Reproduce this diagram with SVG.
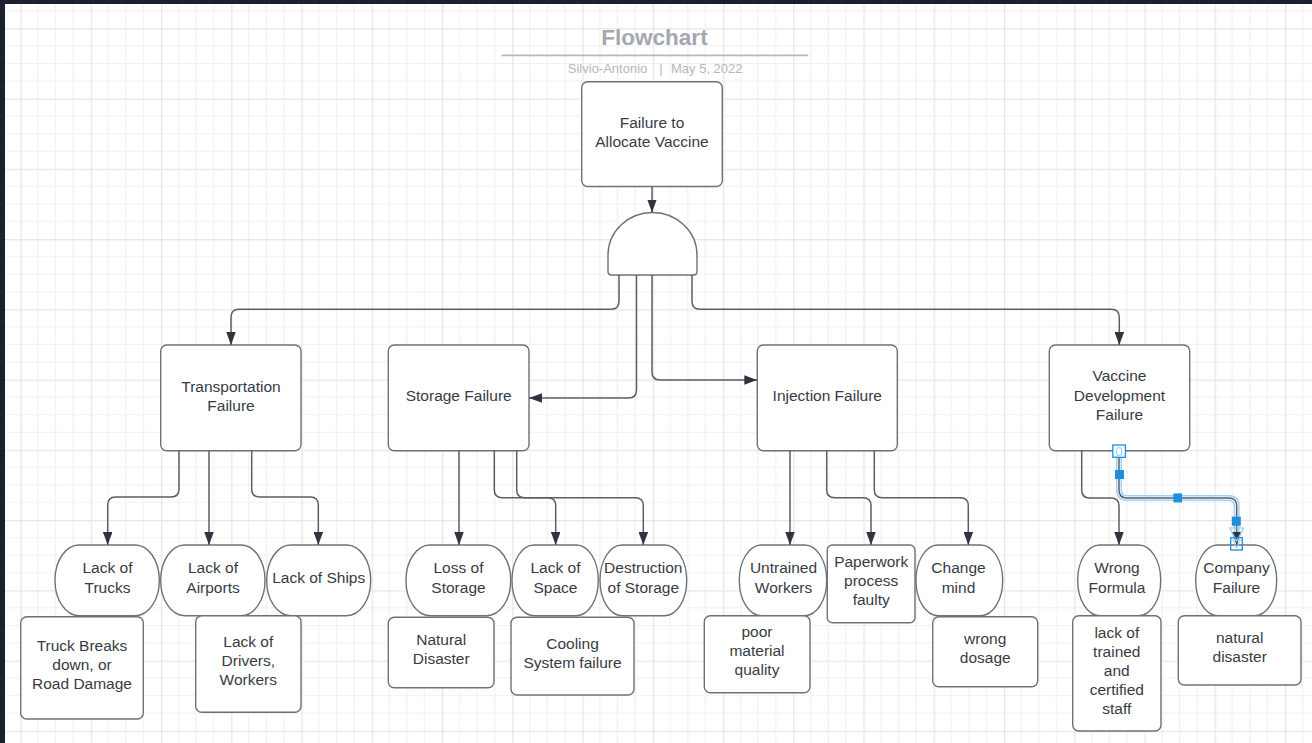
<svg xmlns="http://www.w3.org/2000/svg" width="1312" height="743" viewBox="0 0 1312 743">
  <defs>
    <pattern id="grid" patternUnits="userSpaceOnUse" x="20.45" y="28.3" width="70.25" height="70.25">
      <rect width="70.25" height="70.25" fill="#ffffff"/>
      <g stroke="#f1f1f2" stroke-width="1.2">
        <line x1="17.56" y1="0" x2="17.56" y2="70.25"/>
        <line x1="35.12" y1="0" x2="35.12" y2="70.25"/>
        <line x1="52.69" y1="0" x2="52.69" y2="70.25"/>
        <line x1="0" y1="17.56" x2="70.25" y2="17.56"/>
        <line x1="0" y1="35.12" x2="70.25" y2="35.12"/>
        <line x1="0" y1="52.69" x2="70.25" y2="52.69"/>
      </g>
      <g stroke="#e6e6e8" stroke-width="1.3">
        <line x1="0.6" y1="0" x2="0.6" y2="70.25"/>
        <line x1="0" y1="0.6" x2="70.25" y2="0.6"/>
      </g>
    </pattern>
    <marker id="arrow" viewBox="0 0 13 9.5" refX="13" refY="4.75" markerUnits="userSpaceOnUse" markerWidth="13" markerHeight="9.5" orient="auto">
      <path d="M0,0 L13,4.75 L0,9.5 Z" fill="#30343e"/>
    </marker>
  </defs>
  <style>
    .box { fill: #ffffff; stroke: #6e7178; stroke-width: 1.4; }
    .lbl { font-family: "Liberation Sans", Arial, sans-serif; font-size: 15.5px; fill: #383b43; text-anchor: middle; }
    .conn { fill: none; stroke: #5b5e66; stroke-width: 1.5; }
    .arr { marker-end: url(#arrow); }
    .title { font-family: "Liberation Sans", Arial, sans-serif; font-weight: bold; font-size: 22.5px; fill: #a4a8b0; text-anchor: middle; }
    .sub { font-family: "Liberation Sans", Arial, sans-serif; font-size: 13px; fill: #b4b7be; }
    .handle { fill: #1b8fe2; }
    .handleOpen { fill: #ffffff; stroke: #1b8fe2; stroke-width: 1.3; }
  </style>

  <!-- canvas frame and grid -->
  <rect x="0" y="0" width="1312" height="743" fill="#1b212e"/>
  <rect x="5" y="4" width="1307" height="739" fill="url(#grid)"/>

  <!-- header -->
  <g id="header">
    <text class="title" x="654.5" y="44.8">Flowchart</text>
    <line x1="501.5" y1="55.3" x2="808.3" y2="55.3" stroke="#b6b9c0" stroke-width="1.8"/>
    <text class="sub" x="647.3" y="73" text-anchor="end">Silvio-Antonio</text>
    <text class="sub" x="661" y="73" text-anchor="middle">|</text>
    <text class="sub" x="671" y="73">May 5, 2022</text>
  </g>

  <!-- root event -->
  <g id="root">
    <rect class="box" x="581.7" y="81.7" width="140.6" height="104.8" rx="6"/>
    <text class="lbl" x="652" y="127.5">Failure to</text>
    <text class="lbl" x="652" y="147">Allocate Vaccine</text>
  </g>

  <!-- AND gate -->
  <g id="and-gate">
    <path class="box" d="M608,271.5 L608,255 A44.5,42.5 0 0 1 697,255 L697,271.5 Q697,275 693.5,275 L611.5,275 Q608,275 608,271.5 Z"/>
  </g>

  <!-- level 1 -->
  <g id="transportation">
    <rect class="box" x="160.7" y="345" width="140.3" height="105.7" rx="6"/>
    <text class="lbl" x="231" y="391.8">Transportation</text>
    <text class="lbl" x="231" y="410.8">Failure</text>
  </g>
  <g id="storage">
    <rect class="box" x="388.3" y="345" width="140.7" height="105.7" rx="6"/>
    <text class="lbl" x="458.7" y="401">Storage Failure</text>
  </g>
  <g id="injection">
    <rect class="box" x="757.3" y="345" width="140" height="105.7" rx="6"/>
    <text class="lbl" x="827.3" y="401">Injection Failure</text>
  </g>
  <g id="vaccine-development">
    <rect class="box" x="1049.3" y="345" width="140.4" height="105.7" rx="6"/>
    <text class="lbl" x="1119.5" y="381.3">Vaccine</text>
    <text class="lbl" x="1119.5" y="400.8">Development</text>
    <text class="lbl" x="1119.5" y="419.8">Failure</text>
  </g>

  <!-- level 2: causes -->
  <g id="lack-of-trucks">
    <rect class="box" x="55" y="545" width="104.3" height="70.7" rx="24" ry="35"/>
    <text class="lbl" x="107.5" y="573.3">Lack of</text>
    <text class="lbl" x="107.5" y="592.8">Trucks</text>
  </g>
  <g id="lack-of-airports">
    <rect class="box" x="160.7" y="545" width="104.3" height="70.7" rx="24" ry="35"/>
    <text class="lbl" x="213" y="573.3">Lack of</text>
    <text class="lbl" x="213" y="592.8">Airports</text>
  </g>
  <g id="lack-of-ships">
    <rect class="box" x="266.7" y="545" width="104" height="70.7" rx="24" ry="35"/>
    <text class="lbl" x="318.7" y="583.3">Lack of Ships</text>
  </g>
  <g id="loss-of-storage">
    <rect class="box" x="406" y="545" width="104.7" height="70.7" rx="24" ry="35"/>
    <text class="lbl" x="458.5" y="573.3">Loss of</text>
    <text class="lbl" x="458.5" y="592.8">Storage</text>
  </g>
  <g id="lack-of-space">
    <rect class="box" x="512" y="545" width="86.3" height="70.7" rx="22" ry="35"/>
    <text class="lbl" x="555.5" y="573.3">Lack of</text>
    <text class="lbl" x="555.5" y="592.8">Space</text>
  </g>
  <g id="destruction-of-storage">
    <rect class="box" x="600" y="545" width="86.7" height="70.7" rx="22" ry="35"/>
    <text class="lbl" x="643.3" y="573.3">Destruction</text>
    <text class="lbl" x="643.3" y="592.8">of Storage</text>
  </g>
  <g id="untrained-workers">
    <rect class="box" x="739.3" y="545" width="87.4" height="70.7" rx="22" ry="35"/>
    <text class="lbl" x="783.5" y="573.3">Untrained</text>
    <text class="lbl" x="783.5" y="592.8">Workers</text>
  </g>
  <g id="paperwork">
    <rect class="box" x="827.3" y="545" width="87.7" height="77.7" rx="5"/>
    <text class="lbl" x="871.2" y="567.3">Paperwork</text>
    <text class="lbl" x="871.2" y="586.3">process</text>
    <text class="lbl" x="871.2" y="605.3">faulty</text>
  </g>
  <g id="change-mind">
    <rect class="box" x="916" y="545" width="86.7" height="70.7" rx="22" ry="35"/>
    <text class="lbl" x="958.5" y="573.3">Change</text>
    <text class="lbl" x="958.5" y="592.8">mind</text>
  </g>
  <g id="wrong-formula">
    <rect class="box" x="1077.7" y="545" width="83" height="70.7" rx="22" ry="35"/>
    <text class="lbl" x="1117" y="573.3">Wrong</text>
    <text class="lbl" x="1117" y="592.8">Formula</text>
  </g>
  <g id="company-failure">
    <rect class="box" x="1195.7" y="545" width="81" height="70.7" rx="22" ry="35"/>
    <text class="lbl" x="1236.5" y="573.3">Company</text>
    <text class="lbl" x="1236.5" y="592.8">Failure</text>
  </g>

  <!-- level 3: underlying conditions -->
  <g id="truck-breaks">
    <rect class="box" x="20.7" y="616.7" width="122.6" height="102.3" rx="6"/>
    <text class="lbl" x="82" y="650.8">Truck Breaks</text>
    <text class="lbl" x="82" y="669.8">down, or</text>
    <text class="lbl" x="82" y="688.8">Road Damage</text>
  </g>
  <g id="lack-of-drivers">
    <rect class="box" x="195.7" y="615.7" width="105.3" height="96.6" rx="6"/>
    <text class="lbl" x="248.3" y="646.8">Lack of</text>
    <text class="lbl" x="248.3" y="665.8">Drivers,</text>
    <text class="lbl" x="248.3" y="684.8">Workers</text>
  </g>
  <g id="natural-disaster-storage">
    <rect class="box" x="388.3" y="617.3" width="105.7" height="70.4" rx="6"/>
    <text class="lbl" x="441.2" y="645.3">Natural</text>
    <text class="lbl" x="441.2" y="664.3">Disaster</text>
  </g>
  <g id="cooling-system">
    <rect class="box" x="511" y="617.3" width="123" height="77.7" rx="6"/>
    <text class="lbl" x="572.5" y="649.3">Cooling</text>
    <text class="lbl" x="572.5" y="668.3">System failure</text>
  </g>
  <g id="poor-material">
    <rect class="box" x="704.3" y="615.7" width="105.7" height="77" rx="6"/>
    <text class="lbl" x="757" y="636.8">poor</text>
    <text class="lbl" x="757" y="655.8">material</text>
    <text class="lbl" x="757" y="674.8">quality</text>
  </g>
  <g id="wrong-dosage">
    <rect class="box" x="932.7" y="616.7" width="105" height="70" rx="6"/>
    <text class="lbl" x="985.2" y="644.3">wrong</text>
    <text class="lbl" x="985.2" y="663.3">dosage</text>
  </g>
  <g id="lack-of-staff">
    <rect class="box" x="1072.7" y="615.7" width="88.3" height="115.3" rx="6"/>
    <text class="lbl" x="1116.8" y="638.3">lack of</text>
    <text class="lbl" x="1116.8" y="657.3">trained</text>
    <text class="lbl" x="1116.8" y="676.3">and</text>
    <text class="lbl" x="1116.8" y="695.3">certified</text>
    <text class="lbl" x="1116.8" y="714.3">staff</text>
  </g>
  <g id="natural-disaster-company">
    <rect class="box" x="1178.3" y="615.7" width="122.7" height="69.3" rx="6"/>
    <text class="lbl" x="1239.7" y="643.3">natural</text>
    <text class="lbl" x="1239.7" y="662.3">disaster</text>
  </g>

  <!-- connectors -->
  <g id="connectors">
    <path class="conn arr" d="M652,186.5 V212.5"/>
    <path class="conn arr" d="M619,275 V301.3 Q619,309.3 611,309.3 H239 Q231,309.3 231,317.3 V345"/>
    <path class="conn arr" d="M636.5,275 V390 Q636.5,398 628.5,398 H529"/>
    <path class="conn arr" d="M652,275 V372 Q652,380 660,380 H757.3"/>
    <path class="conn arr" d="M692,275 V301.3 Q692,309.3 700,309.3 H1111.3 Q1119.3,309.3 1119.3,317.3 V345"/>

    <path class="conn arr" d="M179,450.7 V489 Q179,497 171,497 H115.7 Q107.7,497 107.7,505 V545"/>
    <path class="conn arr" d="M209,450.7 V545"/>
    <path class="conn arr" d="M251.7,450.7 V489 Q251.7,497 259.7,497 H310.3 Q318.3,497 318.3,505 V545"/>

    <path class="conn arr" d="M459,450.7 V545"/>
    <path class="conn arr" d="M494.3,450.7 V489.7 Q494.3,497.7 502.3,497.7 H547.7 Q555.7,497.7 555.7,505.7 V545"/>
    <path class="conn arr" d="M516.7,450.7 V489.7 Q516.7,497.7 524.7,497.7 H635.3 Q643.3,497.7 643.3,505.7 V545"/>

    <path class="conn arr" d="M790,450.7 V545"/>
    <path class="conn arr" d="M826.7,450.7 V489.7 Q826.7,497.7 834.7,497.7 H863 Q871,497.7 871,505.7 V545"/>
    <path class="conn arr" d="M874.3,450.7 V489.7 Q874.3,497.7 882.3,497.7 H960.3 Q968.3,497.7 968.3,505.7 V545"/>

    <path class="conn arr" d="M1081.7,450.7 V490 Q1081.7,498 1089.7,498 H1111 Q1119,498 1119,506 V545"/>

    <!-- selected connector with edit handles -->
    <g id="selected-connector">
      <path d="M1119,450.7 V490 Q1119,498 1127,498 H1228.7 Q1236.7,498 1236.7,506 V534" fill="none" stroke="#9fd1f7" stroke-width="6"/>
      <path d="M1119,450.7 V490 Q1119,498 1127,498 H1228.7 Q1236.7,498 1236.7,506 V534" fill="none" stroke="#ffffff" stroke-width="3"/>
      <path class="conn arr" d="M1119,450.7 V490 Q1119,498 1127,498 H1228.7 Q1236.7,498 1236.7,506 V545"/>
      <path d="M1229.7,528 L1243.7,528 L1236.7,541 Z" fill="none" stroke="#8ec9f5" stroke-width="1.2"/>
      <rect class="handleOpen" x="1112.8" y="445" width="12.6" height="12.3"/>
      <rect x="1116.6" y="447.8" width="5" height="7.5" rx="1.5" fill="none" stroke="#8ec9f5" stroke-width="1"/>
      <rect class="handle" x="1115" y="470" width="9" height="9"/>
      <rect class="handle" x="1173.4" y="493.4" width="8.6" height="9"/>
      <rect class="handle" x="1231.8" y="516.7" width="9" height="9"/>
      <rect x="1230.7" y="537.7" width="11.6" height="12.3" fill="none" stroke="#1b8fe2" stroke-width="1.3"/>
      <path d="M1233,540 L1240.4,540 L1236.7,548 Z" fill="none" stroke="#8ec9f5" stroke-width="1"/>
    </g>
  </g>
</svg>
